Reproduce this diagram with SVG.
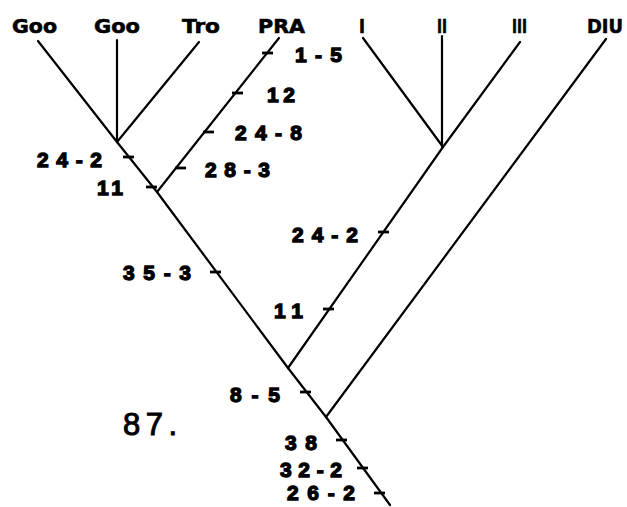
<svg xmlns="http://www.w3.org/2000/svg" width="627" height="507" viewBox="0 0 627 507">
<style>
.br{fill:none;stroke:#000;stroke-width:2.2;stroke-linecap:round;stroke-linejoin:round}
.tk{stroke:#000;stroke-width:2.8;stroke-linecap:butt}
.tx{font-family:"Liberation Sans",Arial,sans-serif;font-weight:bold;font-size:21px;fill:#000;stroke:#000;stroke-width:1.3}
.tt{font-family:"DejaVu Sans","Liberation Sans",sans-serif;font-weight:bold;font-size:20px;fill:#000;stroke:#000;stroke-width:0.6}
.big{font-family:"Liberation Sans",Arial,sans-serif;font-size:31px;fill:#000;stroke:#000;stroke-width:1}
</style>
<rect width="627" height="507" fill="#fff"/>
<g id="connectors">
<polyline class="br" points="38,41 117,142 157,192 288,368 326,417 390,505"/>
<line class="br" x1="117" y1="40" x2="117" y2="142"/>
<line class="br" x1="199" y1="42" x2="117" y2="142"/>
<line class="br" x1="279" y1="38" x2="157" y2="192"/>
<line class="br" x1="363" y1="38" x2="443" y2="147"/>
<line class="br" x1="442" y1="36" x2="442" y2="147"/>
<polyline class="br" points="520,42 443,147 288,368"/>
<line class="br" x1="606" y1="39" x2="326" y2="417"/>
</g>
<g id="ticks">
<line class="tk" x1="262" y1="53" x2="273" y2="53"/>
<line class="tk" x1="232" y1="93" x2="243" y2="93"/>
<line class="tk" x1="203" y1="132" x2="214" y2="132"/>
<line class="tk" x1="175" y1="168" x2="186" y2="168"/>
<line class="tk" x1="123" y1="157" x2="134" y2="157"/>
<line class="tk" x1="146" y1="187" x2="157" y2="187"/>
<line class="tk" x1="378" y1="232" x2="389" y2="232"/>
<line class="tk" x1="323" y1="309" x2="334" y2="309"/>
<line class="tk" x1="210" y1="272" x2="221" y2="272"/>
<line class="tk" x1="300" y1="392" x2="311" y2="392"/>
<line class="tk" x1="336" y1="440" x2="347" y2="440"/>
<line class="tk" x1="357" y1="468" x2="368" y2="468"/>
<line class="tk" x1="374" y1="493" x2="385" y2="493"/>
</g>
<g id="taxa">
<g id="n-goo1"><text class="tt" x="12" y="33" textLength="45" lengthAdjust="spacingAndGlyphs">Goo</text></g>
<g id="n-goo2"><text class="tt" x="94" y="33" textLength="46" lengthAdjust="spacingAndGlyphs">Goo</text></g>
<g id="n-tro"><text class="tt" x="182" y="33" textLength="38" lengthAdjust="spacingAndGlyphs">Tro</text></g>
<g id="n-pra"><text class="tt" x="258" y="33" textLength="47" lengthAdjust="spacingAndGlyphs">PRA</text></g>
<g id="n-i"><text class="tt" x="359" y="33" textLength="6" lengthAdjust="spacingAndGlyphs">I</text></g>
<g id="n-ii"><text class="tt" x="437" y="33" textLength="10" lengthAdjust="spacingAndGlyphs">II</text></g>
<g id="n-iii"><text class="tt" x="512" y="33" textLength="15" lengthAdjust="spacingAndGlyphs">III</text></g>
<g id="n-diu"><text class="tt" x="587" y="33" textLength="36" lengthAdjust="spacingAndGlyphs">DIU</text></g>
</g>
<g id="labels">
<text class="tx" x="295" y="62" textLength="47" lengthAdjust="spacing">1-5</text>
<text class="tx" x="267" y="102" textLength="28" lengthAdjust="spacing">12</text>
<text class="tx" x="235" y="140" textLength="67" lengthAdjust="spacing">24-8</text>
<text class="tx" x="205" y="177" textLength="65" lengthAdjust="spacing">28-3</text>
<text class="tx" x="37" y="167" textLength="65" lengthAdjust="spacing">24-2</text>
<text class="tx" x="97" y="195" textLength="26" lengthAdjust="spacing">11</text>
<text class="tx" x="292" y="242" textLength="66" lengthAdjust="spacing">24-2</text>
<text class="tx" x="274" y="318" textLength="29" lengthAdjust="spacing">11</text>
<text class="tx" x="123" y="280" textLength="68" lengthAdjust="spacing">35-3</text>
<text class="tx" x="230" y="402" textLength="50" lengthAdjust="spacing">8-5</text>
<text class="tx" x="285" y="450" textLength="32" lengthAdjust="spacing">38</text>
<text class="tx" x="280" y="477" textLength="62" lengthAdjust="spacing">32-2</text>
<text class="tx" x="287" y="500" textLength="68" lengthAdjust="spacing">26-2</text>
<text class="big" x="123" y="435" textLength="54" lengthAdjust="spacing">87.</text>
</g>
</svg>
